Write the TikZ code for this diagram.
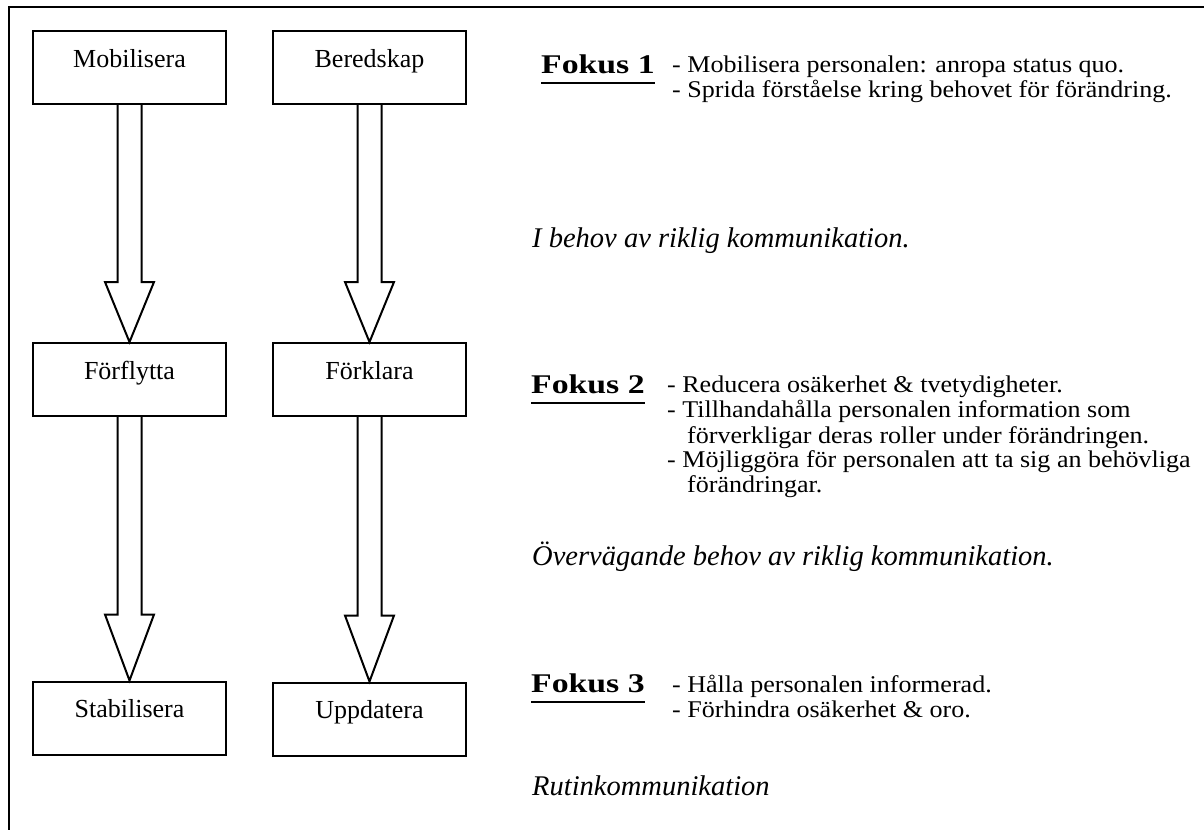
\documentclass[tikz,border=0pt]{standalone}
\usepackage{fontspec}
\setmainfont{Liberation Serif}
\newfontfamily\bulletfont{Liberation Serif}[FakeStretch=1.085]
\newfontfamily\fokfont{Liberation Serif}[FakeStretch=1.25]
\usetikzlibrary{calc}
\newcommand{\ful}[1]{\setbox0\hbox{#1}\leavevmode\rlap{\rule[-11pt]{\wd0}{2pt}}\box0}
\tikzset{
  stepbox/.style={draw, line width=2pt, minimum width=193pt, inner sep=0pt,
    text height=36pt, text depth=37pt, font=\fontsize{26}{30}\selectfont},
  blockarr/.style={draw, line width=2pt, line join=miter, fill=white},
  txt/.style={anchor=base west, inner sep=0pt, font=\bulletfont\fontsize{24}{28}\selectfont},
  fok/.style={anchor=base west, inner sep=0pt, font=\fokfont\fontsize{27}{30}\selectfont\bfseries},
  itl/.style={anchor=base west, inner sep=0pt, font=\fontsize{28.5}{32}\selectfont\itshape},
  frame/.style={line width=2.5pt}
}
\newcommand{\blockarrow}[3]{%
  \draw[blockarr] ($(#1.south)+(-12,0)$) -- ($(#2.north)+(-12,-#3)$) -- ($(#2.north)+(-24.5,-#3)$)
    -- (#2.north) -- ($(#2.north)+(24.5,-#3)$) -- ($(#2.north)+(12,-#3)$) -- ($(#1.south)+(12,0)$);}
\begin{document}
\begin{tikzpicture}[x=1pt,y=-1pt]
\useasboundingbox (0,0) rectangle (1204,830);
\coordinate (ftl) at (9,7);
\coordinate (ftr) at (1204,7);
\coordinate (fbl) at (9,830);
\draw[frame] (ftr) -- (ftl) -- (fbl);
% boxes
\node[stepbox] (mob) at (129.5,67.5) {Mobilisera};
\node[stepbox] (ber) at (369.5,67.5) {Beredskap};
\node[stepbox] (forf) at (129.5,379.5) {Förflytta};
\node[stepbox] (fork) at (369.5,379.5) {Förklara};
\node[stepbox] (stab) at (129.5,718) {Stabilisera};
\node[stepbox] (upp) at (369.5,719) {Uppdatera};
% arrows
\blockarrow{mob}{forf}{60}
\blockarrow{ber}{fork}{60}
\blockarrow{forf}{stab}{66}
\blockarrow{fork}{upp}{66}
% Fokus 1
\node[fok] (f1) at (541,73) {\ful{Fokus 1}};
\node[txt] (f1a) at (672,72) {- Mobilisera personalen: anropa status quo.};
\node[txt] (f1b) at (672,97) {- Sprida förståelse kring behovet för förändring.};
\node[itl] (i1) at (532,247) {I behov av riklig kommunikation.};
% Fokus 2
\node[fok] (f2) at (531,393) {\ful{Fokus 2}};
\node[txt] (f2a) at (667,392) {- Reducera osäkerhet \& tvetydigheter.};
\node[txt] (f2b) at (667,417) {- Tillhandahålla personalen information som};
\node[txt] (f2c) at (687,443) {förverkligar deras roller under förändringen.};
\node[txt] (f2d) at (667,467) {- Möjliggöra för personalen att ta sig an behövliga};
\node[txt] (f2e) at (687,492) {förändringar.};
\node[itl] (i2) at (532,565) {Övervägande behov av riklig kommunikation.};
% Fokus 3
\node[fok] (f3) at (531,692) {\ful{Fokus 3}};
\node[txt] (f3a) at (672,692) {- Hålla personalen informerad.};
\node[txt] (f3b) at (672,717) {- Förhindra osäkerhet \& oro.};
\node[itl] (i3) at (532,795) {Rutinkommunikation};
\end{tikzpicture}
\end{document}
